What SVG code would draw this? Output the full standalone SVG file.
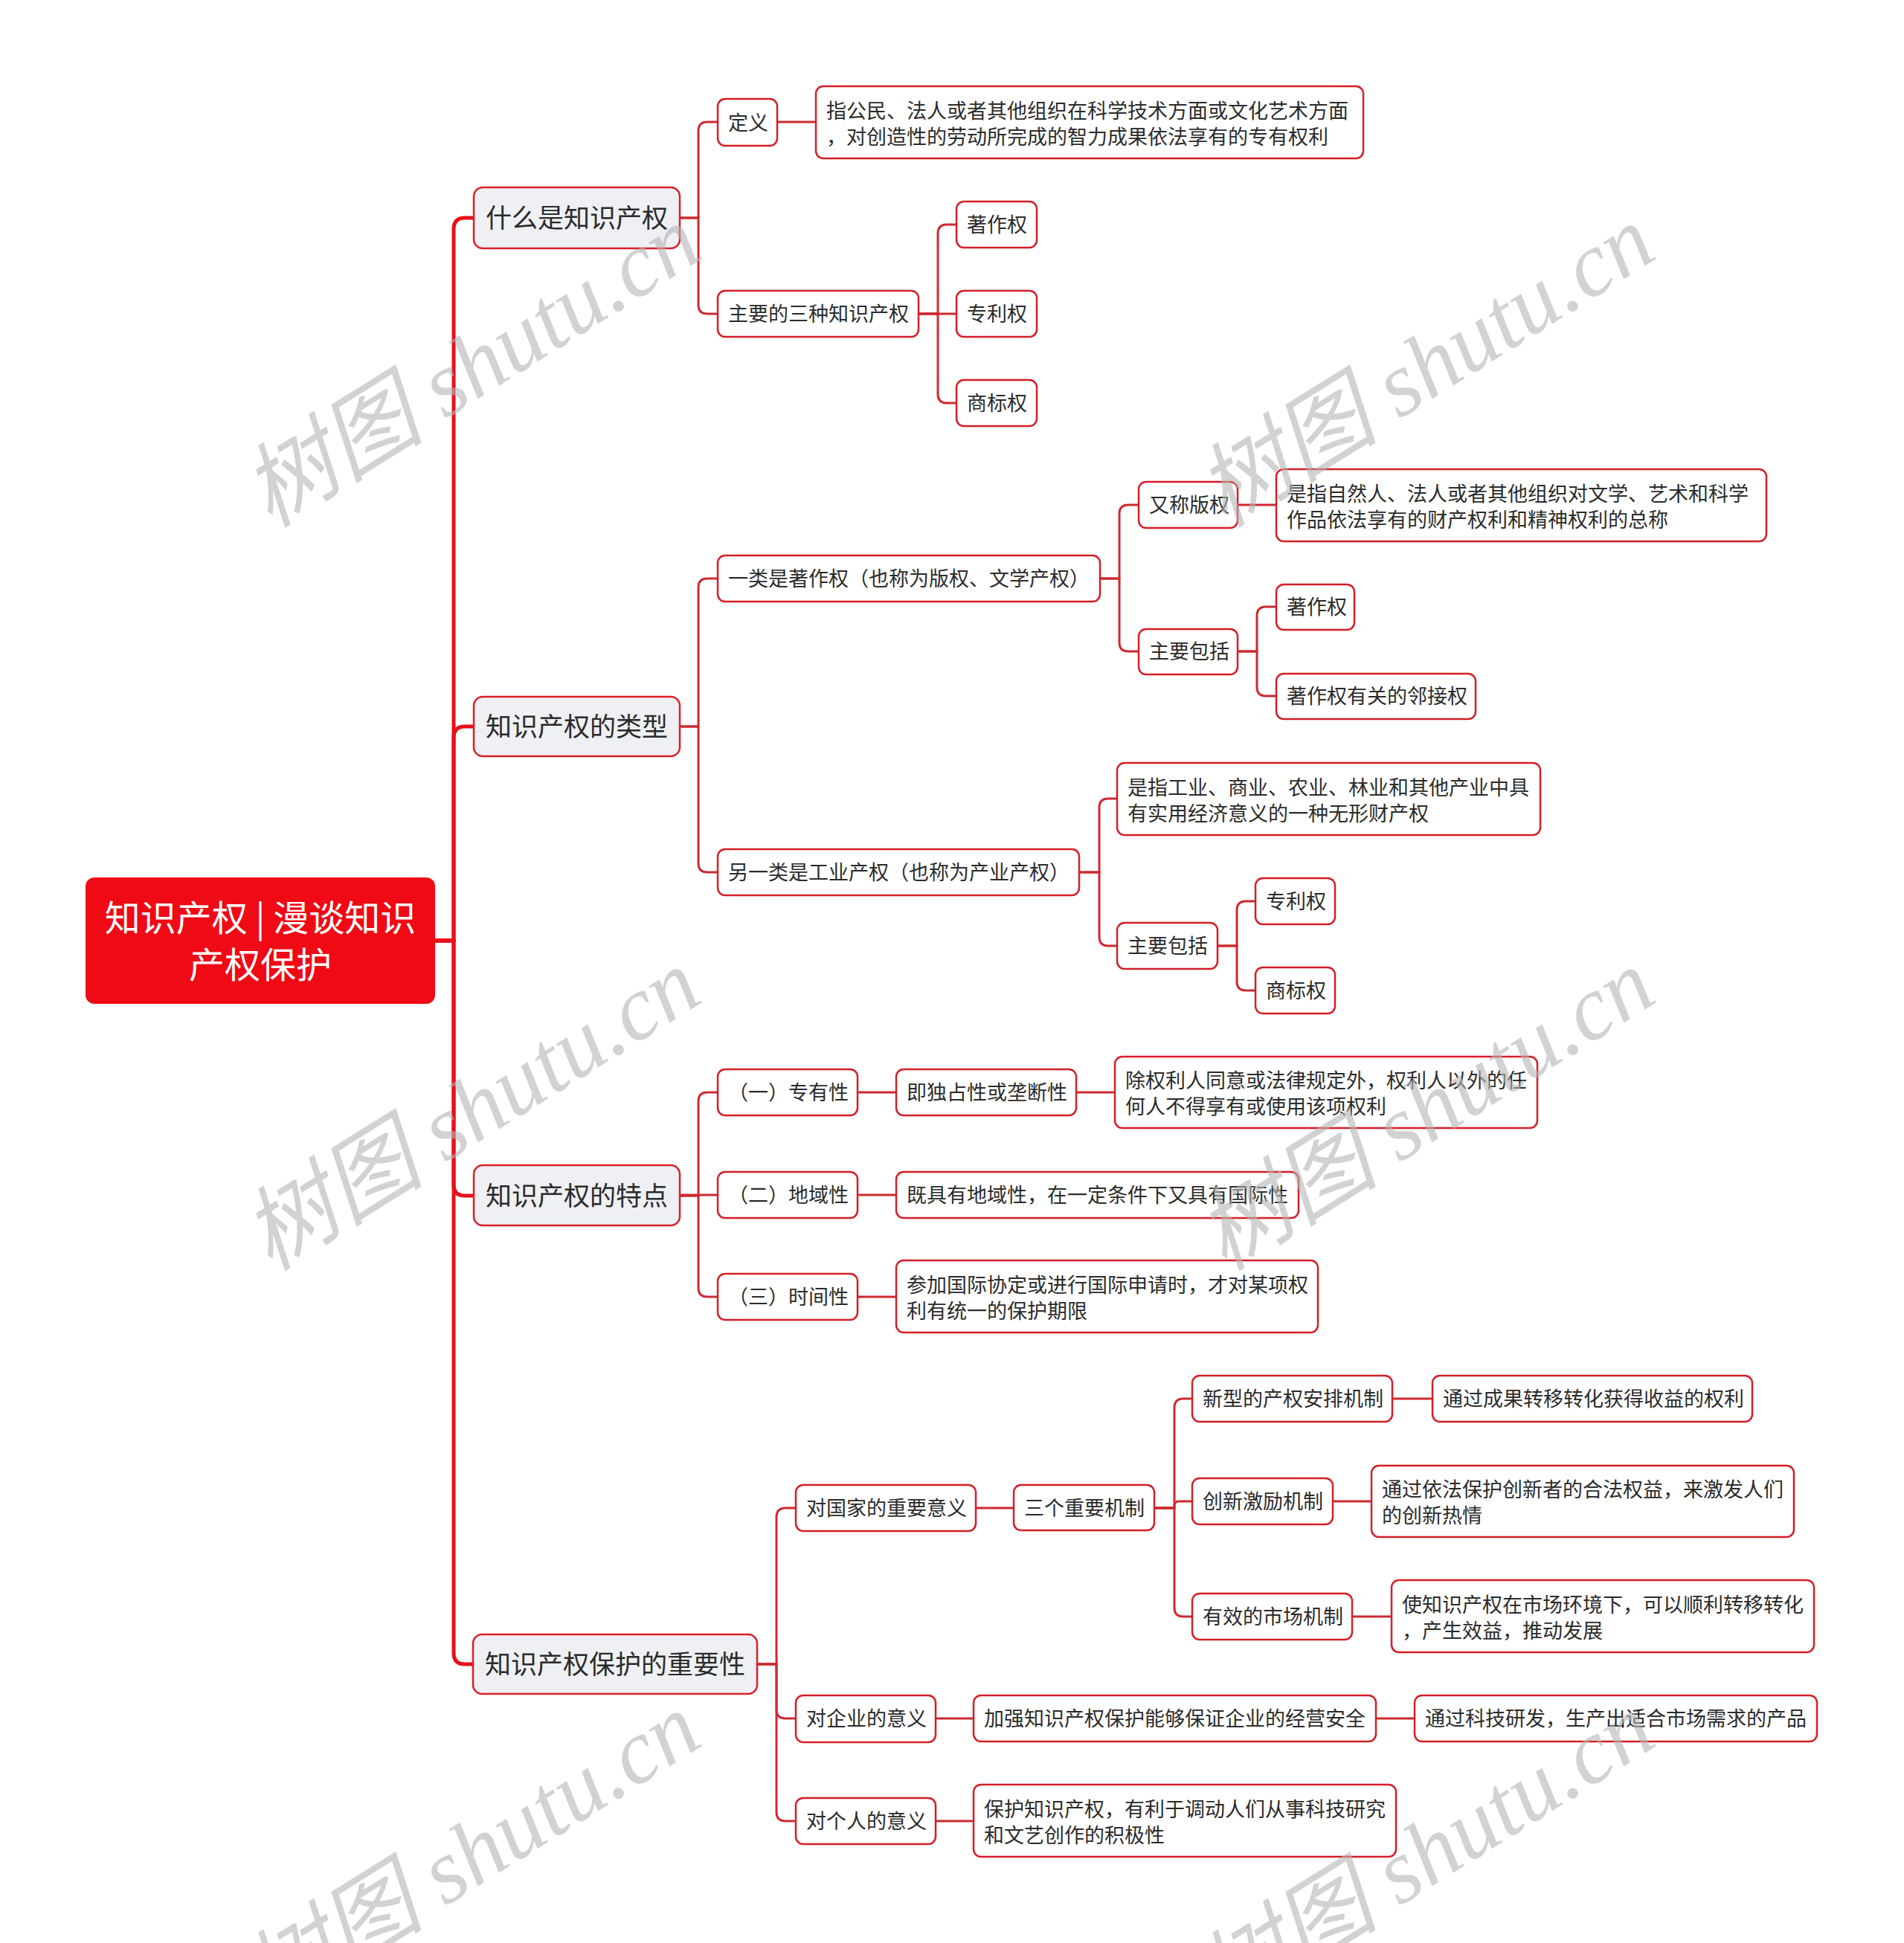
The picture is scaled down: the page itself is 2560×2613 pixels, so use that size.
<svg xmlns="http://www.w3.org/2000/svg" width="2560" height="2613" viewBox="0 0 2560 2613">
<style>
  text { font-family: "Noto Sans CJK SC", "Noto Sans", sans-serif; fill: #2b2b2b; }
  .n rect { fill: #ffffff; stroke: #d41f27; stroke-width: 2.5; }
  .n text { font-size: 27px; }
  .l1 rect { fill: #eef0f4; stroke: #dd1f27; stroke-width: 2.5; }
  .l1 text { font-size: 35px; }
  .root rect { fill: #ef0a15; stroke: none; }
  .root text { font-size: 48px; fill: #ffffff; }
  .trunk path { fill: none; stroke: #e8101a; stroke-width: 5; }
  .conn path { fill: none; stroke: #cc2a30; stroke-width: 3; }
  .wm text { font-family: "Liberation Serif", "Noto Sans CJK SC", serif; font-size: 123px; fill: #b4b4b4; fill-opacity: 0.6; font-style: italic; }
</style>
<rect width="2560" height="2613" fill="#ffffff"/>

<g id="connectors">
  <g class="trunk">
    <path d="M585,1265 H610 V308 Q610,293 625,293 H637"/>
    <path d="M585,1265 H610 V992 Q610,977 625,977 H637"/>
    <path d="M585,1265 H610 V1593 Q610,1608 625,1608 H637"/>
    <path d="M585,1265 H610 V2223 Q610,2238 625,2238 H637"/>
  </g>
  <g class="conn">
    <path d="M914,293 H939 V176 Q939,164 951,164 H965"/>
    <path d="M914,293 H939 V410 Q939,422 951,422 H965"/>
    <path d="M1045,164 H1097"/>
    <path d="M1235,422 H1261 V314 Q1261,302 1273,302 H1286"/>
    <path d="M1235,422 H1286"/>
    <path d="M1235,422 H1261 V530 Q1261,542 1273,542 H1286"/>
    <path d="M914,977 H939 V790 Q939,778 951,778 H965"/>
    <path d="M914,977 H939 V1161 Q939,1173 951,1173 H965"/>
    <path d="M1479,778 H1505 V691 Q1505,679 1517,679 H1531"/>
    <path d="M1479,778 H1505 V864 Q1505,876 1517,876 H1531"/>
    <path d="M1664,679 H1716"/>
    <path d="M1664,876 H1690 V828 Q1690,816 1702,816 H1716"/>
    <path d="M1664,876 H1690 V924 Q1690,936 1702,936 H1716"/>
    <path d="M1451,1173 H1478 V1086 Q1478,1074 1490,1074 H1502"/>
    <path d="M1451,1173 H1478 V1260 Q1478,1272 1490,1272 H1502"/>
    <path d="M1637,1272 H1663 V1224 Q1663,1212 1675,1212 H1688"/>
    <path d="M1637,1272 H1663 V1320 Q1663,1332 1675,1332 H1688"/>
    <path d="M914,1608 H939 V1481 Q939,1469 951,1469 H965"/>
    <path d="M914,1607 H965"/>
    <path d="M914,1608 H939 V1732 Q939,1744 951,1744 H965"/>
    <path d="M1153,1469 H1205"/>
    <path d="M1447,1469 H1499"/>
    <path d="M1153,1607 H1205"/>
    <path d="M1153,1744 H1205"/>
    <path d="M1018,2238 H1044 V2040 Q1044,2028 1056,2028 H1070"/>
    <path d="M1018,2238 H1044 V2299 Q1044,2311 1056,2311 H1070"/>
    <path d="M1018,2238 H1044 V2437 Q1044,2449 1056,2449 H1070"/>
    <path d="M1312,2028 H1363"/>
    <path d="M1552,2028 H1579 V1893 Q1579,1881 1591,1881 H1603"/>
    <path d="M1552,2028 H1579 V2025 Q1579,2019 1585,2019 H1603"/>
    <path d="M1552,2028 H1579 V2162 Q1579,2174 1591,2174 H1603"/>
    <path d="M1872,1881 H1926"/>
    <path d="M1792,2019 H1844"/>
    <path d="M1818,2174 H1871"/>
    <path d="M1258,2311 H1309"/>
    <path d="M1850,2311 H1902"/>
    <path d="M1258,2449 H1309"/>
  </g>
</g>

<g id="root" class="root">
  <rect x="115" y="1180" width="470" height="170" rx="12"/>
  <text x="350" y="1252" text-anchor="middle">知识产权 | 漫谈知识</text>
  <text x="350" y="1315" text-anchor="middle">产权保护</text>
</g>

<g id="n1" class="l1"><rect x="637" y="252" width="277" height="82" rx="12"/><text x="653" y="306">什么是知识产权</text></g>
<g id="n2" class="l1"><rect x="637" y="937" width="277" height="80" rx="12"/><text x="653" y="990">知识产权的类型</text></g>
<g id="n3" class="l1"><rect x="637" y="1567" width="277" height="81" rx="12"/><text x="653" y="1621">知识产权的特点</text></g>
<g id="n4" class="l1"><rect x="636" y="2198" width="382" height="80" rx="12"/><text x="652" y="2251">知识产权保护的重要性</text></g>

<g id="n1-1" class="n"><rect x="965" y="133" width="80" height="63" rx="10"/><text x="979" y="175">定义</text></g>
<g id="n1-1-1" class="n"><rect x="1097" y="116" width="736" height="97" rx="10"/>
  <text x="1111" y="159">指公民、法人或者其他组织在科学技术方面或文化艺术方面</text>
  <text x="1111" y="194">，对创造性的劳动所完成的智力成果依法享有的专有权利</text></g>
<g id="n1-2" class="n"><rect x="965" y="391" width="270" height="62" rx="10"/><text x="979" y="432">主要的三种知识产权</text></g>
<g id="n1-2-1" class="n"><rect x="1286" y="271" width="108" height="62" rx="10"/><text x="1300" y="312">著作权</text></g>
<g id="n1-2-2" class="n"><rect x="1286" y="391" width="108" height="62" rx="10"/><text x="1300" y="432">专利权</text></g>
<g id="n1-2-3" class="n"><rect x="1286" y="511" width="108" height="62" rx="10"/><text x="1300" y="552">商标权</text></g>

<g id="n2-1" class="n"><rect x="965" y="747" width="514" height="62" rx="10"/><text x="979" y="788">一类是著作权（也称为版权、文学产权）</text></g>
<g id="n2-1-1" class="n"><rect x="1531" y="648" width="133" height="62" rx="10"/><text x="1545" y="689">又称版权</text></g>
<g id="n2-1-1-1" class="n"><rect x="1716" y="631" width="659" height="97" rx="10"/>
  <text x="1730" y="674">是指自然人、法人或者其他组织对文学、艺术和科学</text>
  <text x="1730" y="709">作品依法享有的财产权利和精神权利的总称</text></g>
<g id="n2-1-2" class="n"><rect x="1531" y="846" width="133" height="61" rx="10"/><text x="1545" y="886">主要包括</text></g>
<g id="n2-1-2-1" class="n"><rect x="1716" y="786" width="105" height="61" rx="10"/><text x="1730" y="826">著作权</text></g>
<g id="n2-1-2-2" class="n"><rect x="1716" y="906" width="268" height="61" rx="10"/><text x="1730" y="946">著作权有关的邻接权</text></g>

<g id="n2-2" class="n"><rect x="965" y="1142" width="486" height="62" rx="10"/><text x="979" y="1183">另一类是工业产权（也称为产业产权）</text></g>
<g id="n2-2-1" class="n"><rect x="1502" y="1026" width="569" height="97" rx="10"/>
  <text x="1516" y="1069">是指工业、商业、农业、林业和其他产业中具</text>
  <text x="1516" y="1104">有实用经济意义的一种无形财产权</text></g>
<g id="n2-2-2" class="n"><rect x="1502" y="1241" width="135" height="62" rx="10"/><text x="1516" y="1282">主要包括</text></g>
<g id="n2-2-2-1" class="n"><rect x="1688" y="1181" width="107" height="62" rx="10"/><text x="1702" y="1222">专利权</text></g>
<g id="n2-2-2-2" class="n"><rect x="1688" y="1301" width="107" height="62" rx="10"/><text x="1702" y="1342">商标权</text></g>

<g id="n3-1" class="n"><rect x="965" y="1438" width="188" height="62" rx="10"/><text x="979" y="1479">（一）专有性</text></g>
<g id="n3-1-1" class="n"><rect x="1205" y="1438" width="242" height="62" rx="10"/><text x="1219" y="1479">即独占性或垄断性</text></g>
<g id="n3-1-1-1" class="n"><rect x="1499" y="1421" width="568" height="96" rx="10"/>
  <text x="1513" y="1463">除权利人同意或法律规定外，权利人以外的任</text>
  <text x="1513" y="1498">何人不得享有或使用该项权利</text></g>
<g id="n3-2" class="n"><rect x="965" y="1576" width="188" height="62" rx="10"/><text x="979" y="1617">（二）地域性</text></g>
<g id="n3-2-1" class="n"><rect x="1205" y="1576" width="541" height="62" rx="10"/><text x="1219" y="1617">既具有地域性，在一定条件下又具有国际性</text></g>
<g id="n3-3" class="n"><rect x="965" y="1713" width="188" height="62" rx="10"/><text x="979" y="1754">（三）时间性</text></g>
<g id="n3-3-1" class="n"><rect x="1205" y="1695" width="567" height="97" rx="10"/>
  <text x="1219" y="1738">参加国际协定或进行国际申请时，才对某项权</text>
  <text x="1219" y="1773">利有统一的保护期限</text></g>

<g id="n4-1" class="n"><rect x="1070" y="1997" width="242" height="62" rx="10"/><text x="1084" y="2038">对国家的重要意义</text></g>
<g id="n4-1-1" class="n"><rect x="1363" y="1997" width="189" height="61" rx="10"/><text x="1377" y="2038">三个重要机制</text></g>
<g id="n4-1-1-1" class="n"><rect x="1603" y="1850" width="269" height="62" rx="10"/><text x="1617" y="1891">新型的产权安排机制</text></g>
<g id="n4-1-1-1-1" class="n"><rect x="1926" y="1850" width="430" height="62" rx="10"/><text x="1940" y="1891">通过成果转移转化获得收益的权利</text></g>
<g id="n4-1-1-2" class="n"><rect x="1603" y="1988" width="189" height="62" rx="10"/><text x="1617" y="2029">创新激励机制</text></g>
<g id="n4-1-1-2-1" class="n"><rect x="1844" y="1971" width="568" height="96" rx="10"/>
  <text x="1858" y="2013">通过依法保护创新者的合法权益，来激发人们</text>
  <text x="1858" y="2048">的创新热情</text></g>
<g id="n4-1-1-3" class="n"><rect x="1603" y="2143" width="215" height="62" rx="10"/><text x="1617" y="2184">有效的市场机制</text></g>
<g id="n4-1-1-3-1" class="n"><rect x="1871" y="2125" width="568" height="97" rx="10"/>
  <text x="1885" y="2168">使知识产权在市场环境下，可以顺利转移转化</text>
  <text x="1885" y="2203">，产生效益，推动发展</text></g>
<g id="n4-2" class="n"><rect x="1070" y="2280" width="188" height="63" rx="10"/><text x="1084" y="2321">对企业的意义</text></g>
<g id="n4-2-1" class="n"><rect x="1309" y="2280" width="541" height="62" rx="10"/><text x="1323" y="2321">加强知识产权保护能够保证企业的经营安全</text></g>
<g id="n4-2-1-1" class="n"><rect x="1902" y="2280" width="541" height="62" rx="10"/><text x="1916" y="2321">通过科技研发，生产出适合市场需求的产品</text></g>
<g id="n4-3" class="n"><rect x="1070" y="2418" width="188" height="62" rx="10"/><text x="1084" y="2459">对个人的意义</text></g>
<g id="n4-3-1" class="n"><rect x="1309" y="2400" width="568" height="97" rx="10"/>
  <text x="1323" y="2443">保护知识产权，有利于调动人们从事科技研究</text>
  <text x="1323" y="2478">和文艺创作的积极性</text></g>

<g id="watermarks" class="wm">
  <text x="656" y="528" text-anchor="middle" transform="rotate(-32 656 528)">树图 shutu.cn</text>
  <text x="1939" y="528" text-anchor="middle" transform="rotate(-32 1939 528)">树图 shutu.cn</text>
  <text x="656" y="1528" text-anchor="middle" transform="rotate(-32 656 1528)">树图 shutu.cn</text>
  <text x="1939" y="1528" text-anchor="middle" transform="rotate(-32 1939 1528)">树图 shutu.cn</text>
  <text x="656" y="2528" text-anchor="middle" transform="rotate(-32 656 2528)">树图 shutu.cn</text>
  <text x="1939" y="2528" text-anchor="middle" transform="rotate(-32 1939 2528)">树图 shutu.cn</text>
</g>
</svg>
